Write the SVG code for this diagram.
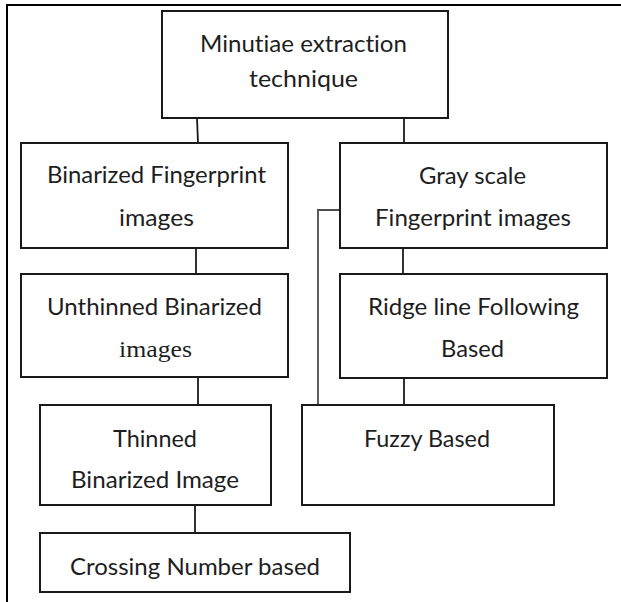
<svg xmlns="http://www.w3.org/2000/svg" width="621" height="602" viewBox="0 0 621 602">
  <style>
    .box { fill: #ffffff; stroke: #1a1a1a; stroke-width: 2; }
    .frame { fill: none; stroke: #000000; stroke-width: 2; }
    .link { fill: none; stroke: #1a1a1a; stroke-width: 1.8; }
    .label { font-family: Lato, "Open Sans", "Liberation Sans", sans-serif; font-size: 24px; fill: #1e1e1e; text-anchor: middle; font-variant-ligatures: none; }
    .serif { font-family: "Liberation Serif", "DejaVu Serif", serif; font-size: 23px; fill: #1e1e1e; text-anchor: middle; }
  </style>

  <rect width="621" height="602" fill="#ffffff"/>

  <!-- page frame: top and left rules only -->
  <polyline class="frame" points="7,602 7,5 621,5"/>

  <!-- connectors -->
  <g id="connectors">
    <line class="link" x1="197" y1="118" x2="198" y2="143"/>
    <line class="link" x1="404" y1="118" x2="404" y2="143"/>
    <line class="link" x1="196" y1="248" x2="196" y2="274"/>
    <line class="link" x1="403" y1="248" x2="403" y2="274"/>
    <line class="link" x1="198" y1="377" x2="198" y2="405"/>
    <line class="link" x1="404" y1="378" x2="404" y2="405"/>
    <line class="link" x1="195" y1="505" x2="195" y2="533"/>
    <polyline class="link" points="342,210 318,210 318,405" style="stroke:#4d4d4d"/>
  </g>

  <g id="minutiae-extraction">
    <rect class="box" x="162" y="11" width="286" height="107"/>
    <text class="label" x="303.5" y="52" textLength="207" lengthAdjust="spacingAndGlyphs">Minutiae extraction</text>
    <text class="label" x="303.5" y="87" textLength="109" lengthAdjust="spacingAndGlyphs">technique</text>
  </g>

  <g id="binarized-fingerprint">
    <rect class="box" x="21" y="143" width="267" height="105"/>
    <text class="label" x="156.5" y="183" textLength="219" lengthAdjust="spacingAndGlyphs">Binarized Fingerprint</text>
    <text class="label" x="156.5" y="226" textLength="75" lengthAdjust="spacingAndGlyphs">images</text>
  </g>

  <g id="gray-scale-fingerprint">
    <rect class="box" x="340" y="143" width="267" height="105"/>
    <text class="label" x="472.5" y="184" textLength="107" lengthAdjust="spacingAndGlyphs">Gray scale</text>
    <text class="label" x="473" y="226" textLength="196" lengthAdjust="spacingAndGlyphs">Fingerprint images</text>
  </g>

  <g id="unthinned-binarized">
    <rect class="box" x="21" y="274" width="267" height="103"/>
    <text class="label" x="154.5" y="315" textLength="215" lengthAdjust="spacingAndGlyphs">Unthinned Binarized</text>
    <text class="serif" x="155.5" y="357" textLength="73" lengthAdjust="spacingAndGlyphs">images</text>
  </g>

  <g id="ridge-line-following">
    <rect class="box" x="340" y="274" width="267" height="104"/>
    <text class="label" x="473.5" y="315" textLength="211" lengthAdjust="spacingAndGlyphs">Ridge line Following</text>
    <text class="label" x="472.5" y="357" textLength="63" lengthAdjust="spacingAndGlyphs">Based</text>
  </g>

  <g id="thinned-binarized">
    <rect class="box" x="40" y="405" width="231" height="100"/>
    <text class="label" x="155" y="447" textLength="84" lengthAdjust="spacingAndGlyphs">Thinned</text>
    <text class="label" x="155" y="488" textLength="168" lengthAdjust="spacingAndGlyphs">Binarized Image</text>
  </g>

  <g id="fuzzy-based">
    <rect class="box" x="302" y="405" width="252" height="100"/>
    <text class="label" x="427" y="447" textLength="126" lengthAdjust="spacingAndGlyphs">Fuzzy Based</text>
  </g>

  <g id="crossing-number">
    <rect class="box" x="40" y="533" width="310" height="59"/>
    <text class="label" x="195" y="575" textLength="250" lengthAdjust="spacingAndGlyphs">Crossing Number based</text>
  </g>
</svg>
